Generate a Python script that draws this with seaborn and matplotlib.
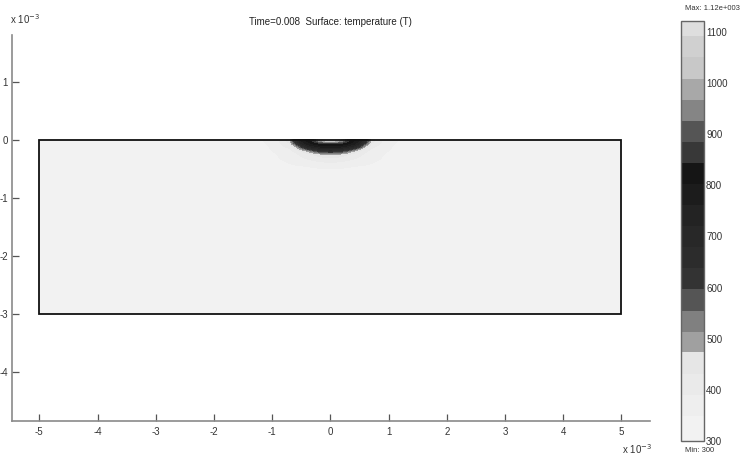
import numpy as np
import matplotlib
matplotlib.use("Agg")
import matplotlib.pyplot as plt
import seaborn as sns
from matplotlib.colors import ListedColormap, BoundaryNorm
from matplotlib.cm import ScalarMappable
from matplotlib.patches import Rectangle

# ---------------- data (units of 1e-3 m, temperature in K) ----------------
title_text = "Time=0.008  Surface: temperature (T)"
domain_x = [-5.0, 5.0]
domain_y = [-3.0, 0.0]

# half-domain grid nodes (x >= 0) and depth below the surface
x_half = [0.0, 0.1, 0.2, 0.3, 0.4, 0.5, 0.6, 0.7, 0.85, 1.0, 1.2, 1.5, 5.0]
depth = [0.0, 0.03, 0.06, 0.09, 0.12, 0.15, 0.18, 0.21, 0.25, 0.32, 0.45, 0.6, 3.0]
# temperature (rows: depth, cols: x_half)
T_half = [
    [1120, 1080, 970, 860, 815, 765, 665, 455, 400, 365, 345, 320, 300],
    [960, 950, 900, 835, 795, 750, 640, 445, 395, 362, 343, 318, 300],
    [850, 845, 835, 810, 775, 720, 585, 430, 390, 360, 340, 316, 300],
    [815, 812, 800, 775, 740, 665, 505, 415, 385, 357, 338, 314, 300],
    [780, 775, 758, 730, 685, 595, 455, 400, 378, 354, 336, 312, 300],
    [730, 720, 700, 665, 605, 505, 425, 390, 372, 352, 334, 311, 300],
    [665, 655, 632, 585, 505, 440, 405, 380, 366, 349, 332, 310, 300],
    [595, 582, 548, 492, 445, 415, 392, 372, 360, 346, 330, 309, 300],
    [470, 462, 448, 432, 415, 398, 382, 366, 355, 342, 327, 308, 300],
    [425, 420, 412, 403, 392, 382, 370, 360, 350, 338, 324, 307, 300],
    [356, 355, 354, 352, 350, 348, 346, 343, 337, 330, 318, 305, 300],
    [335, 334, 333, 332, 331, 330, 328, 326, 322, 317, 310, 303, 300],
    [300, 300, 300, 300, 300, 300, 300, 300, 300, 300, 300, 300, 300],
]

# colour bands of the legend (temperature edges and grey levels)
band_edges = [299, 349, 390, 431, 473, 514, 555, 597, 638, 679, 720,
              761, 802, 844, 885, 926, 967, 1008, 1050, 1091, 1121]
band_colors = ["#f2f2f2", "#eeeeee", "#eaeaea", "#e6e6e6", "#a0a0a0",
               "#808080", "#555555", "#333333", "#2c2c2c", "#282828",
               "#232323", "#1c1c1c", "#151515", "#383838", "#555555",
               "#858585", "#a8a8a8", "#c8c8c8", "#d0d0d0", "#dedede"]
cbar_ticks = [300, 400, 500, 600, 700, 800, 900, 1000, 1100]
x_ticks = [-5, -4, -3, -2, -1, 0, 1, 2, 3, 4, 5]
y_ticks = [1, 0, -1, -2, -3, -4]
max_label = "Max: 1.12e+003"
min_label = "Min: 300"

# ---------------- build full symmetric grid ----------------
xh = np.array(x_half)
x_full = np.concatenate([-xh[:0:-1], xh])
Th = np.array(T_half, dtype=float)
T_full = np.hstack([Th[:, :0:-1], Th])
y_full = -np.array(depth)
X, Y = np.meshgrid(x_full, y_full)

# ---------------- style ----------------
sns.set_theme(style="ticks")
plt.rcParams["font.family"] = ["Liberation Sans", "DejaVu Sans"]

W, H = 747, 458
fig = plt.figure(figsize=(W / 100, H / 100), dpi=100)
fig.patch.set_facecolor("white")

# main axes
ax = fig.add_axes([12 / W, (H - 421) / H, (650 - 12) / W, (421 - 35) / H])
ax.set_facecolor("white")
ax.contourf(X, Y, T_full, levels=band_edges, colors=band_colors)
ax.add_patch(Rectangle((domain_x[0], domain_y[0]), domain_x[1] - domain_x[0],
                       domain_y[1] - domain_y[0], fill=False,
                       edgecolor="#111111", linewidth=1.3, zorder=5))
ax.set_xlim(-5.47, 5.49)
ax.set_ylim(-4.845, 1.81)
ax.set_xticks(x_ticks)
ax.set_yticks(y_ticks)
ax.set_xticklabels([str(v) for v in x_ticks])
ax.set_yticklabels([str(v) for v in y_ticks])
for s in ["top", "right"]:
    ax.spines[s].set_visible(False)
for s in ["left", "bottom"]:
    ax.spines[s].set_color("#8a8a8a")
    ax.spines[s].set_linewidth(1.2)
ax.tick_params(axis="both", direction="in", length=5, width=0.9,
               color="#555555", labelsize=7, labelcolor="#333333", pad=4)
ax.tick_params(axis="y", pad=3)

fig.text(330 / W, 1 - 22 / H, title_text, ha="center", va="center",
         fontsize=7, color="#222222")
fig.text(10 / W, 1 - 19 / H, r"x 10$^{-3}$", ha="left", va="center",
         fontsize=7, color="#333333")
fig.text(622 / W, 1 - 449 / H, r"x 10$^{-3}$", ha="left", va="center",
         fontsize=7, color="#333333")

# colour bar
cax = fig.add_axes([681 / W, (H - 441) / H, 23 / W, (441 - 21.5) / H])
cmap = ListedColormap(band_colors)
norm = BoundaryNorm(band_edges, cmap.N)
sm = ScalarMappable(norm=norm, cmap=cmap)
cb = fig.colorbar(sm, cax=cax, spacing="proportional", ticks=cbar_ticks)
cb.ax.set_ylim(300, 1120)
cb.ax.minorticks_off()
cb.outline.set_edgecolor("#666666")
cb.outline.set_linewidth(1.0)
cb.ax.set_yticks(cbar_ticks)
cb.ax.set_yticklabels([str(v) for v in cbar_ticks])
cb.ax.tick_params(which="both", direction="in", length=2.5, width=0.8,
                  color="#d0d0d0", labelsize=7, labelcolor="#333333", pad=1.5,
                  left=True, right=True, labelleft=False, labelright=True)
cb.ax.tick_params(which="minor", left=False, right=False)

fig.text(712 / W, 1 - 8 / H, max_label, ha="center", va="center",
         fontsize=5.5, color="#333333")
fig.text(700 / W, 1 - 450 / H, min_label, ha="center", va="center",
         fontsize=5.5, color="#333333")

fig.savefig("out.png", dpi=100, facecolor="white")
